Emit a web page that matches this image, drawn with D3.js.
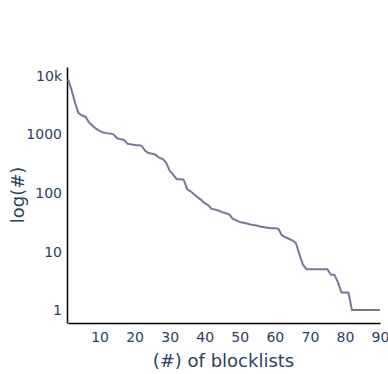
<!DOCTYPE html>
<html>
<head>
<meta charset="utf-8">
<script src="https://cdn.jsdelivr.net/npm/d3@7"></script>
<style>
  body { margin: 0; background: #fff; }
  svg text { font-family: "DejaVu Sans", verdana, arial, sans-serif; fill: #2a3f5f; }
</style>
</head>
<body>
<div id="chart"></div>
<script>
// number of blocklists (x) -> count (y)
const blocklists = d3.range(1, 91)
const counts = [
  8700, 5800, 3500, 2300, 2100, 2000, 1600, 1400, 1250, 1150,
  1080, 1050, 1030, 1000, 860, 830, 800, 690, 675, 660,
  650, 640, 525, 480, 465, 450, 400, 380, 330, 240,
  205, 172, 172, 168, 115, 106, 95, 84, 76, 67,
  62, 53, 52, 50, 47, 45, 43, 36, 34, 32,
  31, 30, 29, 28.5, 27.5, 26.5, 26, 25.5, 25, 25,
  24.5, 19, 17.5, 16.5, 15.5, 14, 9, 6, 5, 5,
  5, 5, 5, 5, 5, 4, 4, 3, 2, 2,
  2, 1, 1, 1, 1, 1, 1, 1, 1, 1
]
const xTicks = [10, 20, 30, 40, 50, 60, 70, 80, 90]
const yTicks = [1, 10, 100, 1000, 10000]
const yTickLabels = ["1", "10", "100", "1000", "10k"]

let data = blocklists.map((b, i) => ({ x: b, y: counts[i] }))

let margin = { left: 67, right: 8, top: 67, bottom: 51 }
let W = 388, H = 374
let width = W - margin.left - margin.right,
    height = H - margin.top - margin.bottom

let svg = d3.select("#chart").append("svg")
    .attr("width", W)
    .attr("height", H)

let g = svg.append("g")
    .attr("transform", `translate(${margin.left}, ${margin.top})`)

let x = d3.scaleLinear()
    .domain([1, 90])
    .range([1, width])

let y = d3.scaleLog()
    .domain([Math.pow(10, -0.22), Math.pow(10, 4.15)])
    .range([height, 0])

// X Axis
let xAxis = g.append("g")
    .attr("transform", `translate(0, ${height})`)
    .call(d3.axisBottom(x).tickValues(xTicks).tickSize(0).tickPadding(9).tickFormat(d3.format("d")))
xAxis.select(".domain").attr("stroke", "#000").attr("stroke-width", 1.5)
xAxis.selectAll("text")
    .attr("font-size", "14px")

// Y Axis
let yAxis = g.append("g")
    .call(d3.axisLeft(y).tickValues(yTicks).tickSize(0).tickPadding(5)
      .tickFormat((d, i) => yTickLabels[i]))
yAxis.select(".domain").attr("stroke", "#000").attr("stroke-width", 1.5)
yAxis.selectAll("text")
    .attr("font-size", "14px")

svg.selectAll(".tick text").attr("font-family", null)

// line
let line = d3.line()
    .x(d => x(d.x))
    .y(d => y(d.y))

g.append("path")
    .datum(data)
    .attr("fill", "none")
    .attr("stroke", "#75779a")
    .attr("stroke-width", 2)
    .attr("stroke-linejoin", "round")
    .attr("d", line)

// X Label
svg.append("text")
    .attr("x", margin.left + width / 2)
    .attr("y", 367)
    .attr("font-size", "18px")
    .attr("text-anchor", "middle")
    .text("(#) of blocklists")

// Y Label
svg.append("text")
    .attr("transform", `translate(24, ${margin.top + height / 2}) rotate(-90)`)
    .attr("font-size", "18px")
    .attr("text-anchor", "middle")
    .text("log(#)")
</script>
</body>
</html>
